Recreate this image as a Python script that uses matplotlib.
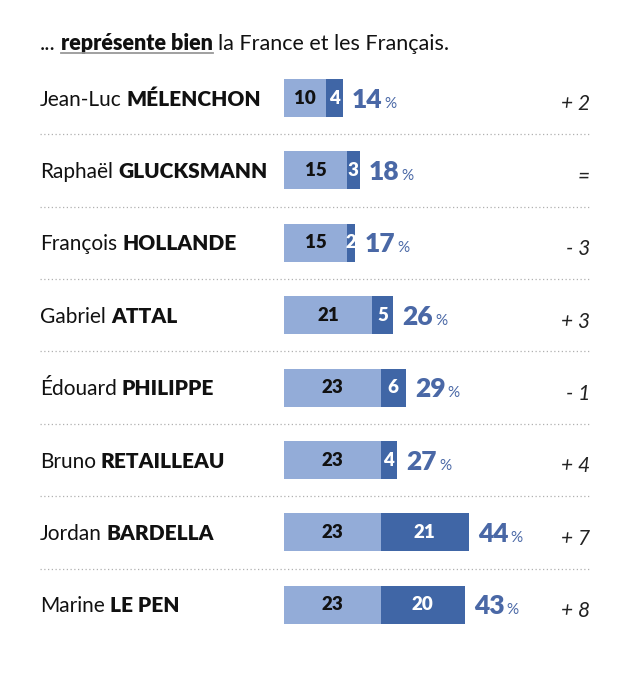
import matplotlib
matplotlib.use("Agg")
import matplotlib.pyplot as plt
from matplotlib.lines import Line2D

# ---------------------------------------------------------------------------
# Data
# ---------------------------------------------------------------------------
FIRST_NAMES = ["Jean-Luc", "Raphaël", "François", "Gabriel",
               "Édouard", "Bruno", "Jordan", "Marine"]
LAST_NAMES = ["MÉLENCHON", "GLUCKSMANN", "HOLLANDE", "ATTAL",
              "PHILIPPE", "RETAILLEAU", "BARDELLA", "LE PEN"]
PART_LIGHT = [10, 15, 15, 21, 23, 23, 23, 23]   # "plutôt bien"
PART_DARK = [4, 3, 2, 5, 6, 4, 21, 20]          # "très bien"
TOTALS = [14, 18, 17, 26, 29, 27, 44, 43]
CHANGES = ["+ 2", "=", "- 3", "+ 3", "- 1", "+ 4", "+ 7", "+ 8"]

LIGHT = "#93acd8"
DARK = "#4066a6"
TOTAL_COL = "#4a68a6"
FONT = "Lato"

W, H = 632, 680
X0_PX, PX_PER_UNIT = 284, 4.2        # bar origin and scale
ROW0_PX, ROW_PX = 98, 72.4           # first row centre and row step

plt.rcParams["font.family"] = [FONT, "DejaVu Sans"]

fig = plt.figure(figsize=(W / 100, H / 100), dpi=100)
ax = fig.add_axes([0, 0, 1, 1])
ax.set_xlim(-X0_PX / PX_PER_UNIT, (W - X0_PX) / PX_PER_UNIT)
ax.set_ylim((H - ROW0_PX) / ROW_PX, -ROW0_PX / ROW_PX)
ax.axis("off")
renderer = fig.canvas.get_renderer()


def px_x(px):
    return (px - X0_PX) / PX_PER_UNIT


def place_after(prev, s, gap_px, **kw):
    """Put text s right after text prev, on the same baseline."""
    bb = prev.get_window_extent(renderer)
    x1 = ax.transData.inverted().transform((bb.x1 + gap_px, 0))[0]
    return ax.text(x1, prev.get_position()[1], s, ha="left", va="baseline", **kw)


rows = list(range(len(FIRST_NAMES)))
bar_h = 38 / ROW_PX
NAME_FS = 15
BASE = 7.5 / ROW_PX        # baseline offset from row centre

ax.barh(rows, PART_LIGHT, height=bar_h, color=LIGHT, linewidth=0)
ax.barh(rows, PART_DARK, left=PART_LIGHT, height=bar_h, color=DARK, linewidth=0)

for i in rows:
    lv, dv, tot = PART_LIGHT[i], PART_DARK[i], TOTALS[i]
    ax.text(lv / 2, i, str(lv), ha="center", va="center", fontsize=13.5,
            fontweight="heavy", color="#111111")
    ax.text(lv + dv / 2, i, str(dv), ha="center", va="center", fontsize=13.5,
            fontweight="heavy", color="white")
    t = ax.text(lv + dv + 2.2, i + 9.5 / ROW_PX, str(tot), ha="left",
                va="baseline", fontsize=19, fontweight="heavy", color=TOTAL_COL)
    place_after(t, "%", 2, fontsize=11, color=TOTAL_COL)

    # name: regular first name + bold surname
    fn = ax.text(px_x(40), i + BASE, FIRST_NAMES[i], ha="left", va="baseline",
                 fontsize=NAME_FS, color="#111111")
    place_after(fn, LAST_NAMES[i], 5, fontsize=NAME_FS, fontweight="heavy",
                color="#111111")

    ax.text(px_x(590), i + BASE + 5 / ROW_PX, CHANGES[i], ha="right",
            va="baseline", fontsize=15, fontstyle="italic", color="#222222")

# dotted separators
for i in rows[:-1]:
    ax.plot([px_x(40), px_x(590)], [i + 0.5, i + 0.5], color="#b0b0b0",
            lw=0.9, linestyle=(0, (1, 2)))

# title
ty = (50 - ROW0_PX) / ROW_PX
t1 = ax.text(px_x(40), ty, "...", ha="left", va="baseline", fontsize=15.5,
             color="#111111")
t2 = place_after(t1, "représente bien", 5, fontsize=15.5, fontweight="heavy",
                 color="#111111")
place_after(t2, "la France et les Français.", 5, fontsize=15.5,
            color="#111111")

bb = t2.get_window_extent(renderer)
uy = H - (53 + 0)   # underline a little below the baseline
fig.add_artist(Line2D([bb.x0 / W, bb.x1 / W], [uy / H, uy / H],
                      color="#999999", lw=1.3))

fig.savefig("out.png", dpi=100)
